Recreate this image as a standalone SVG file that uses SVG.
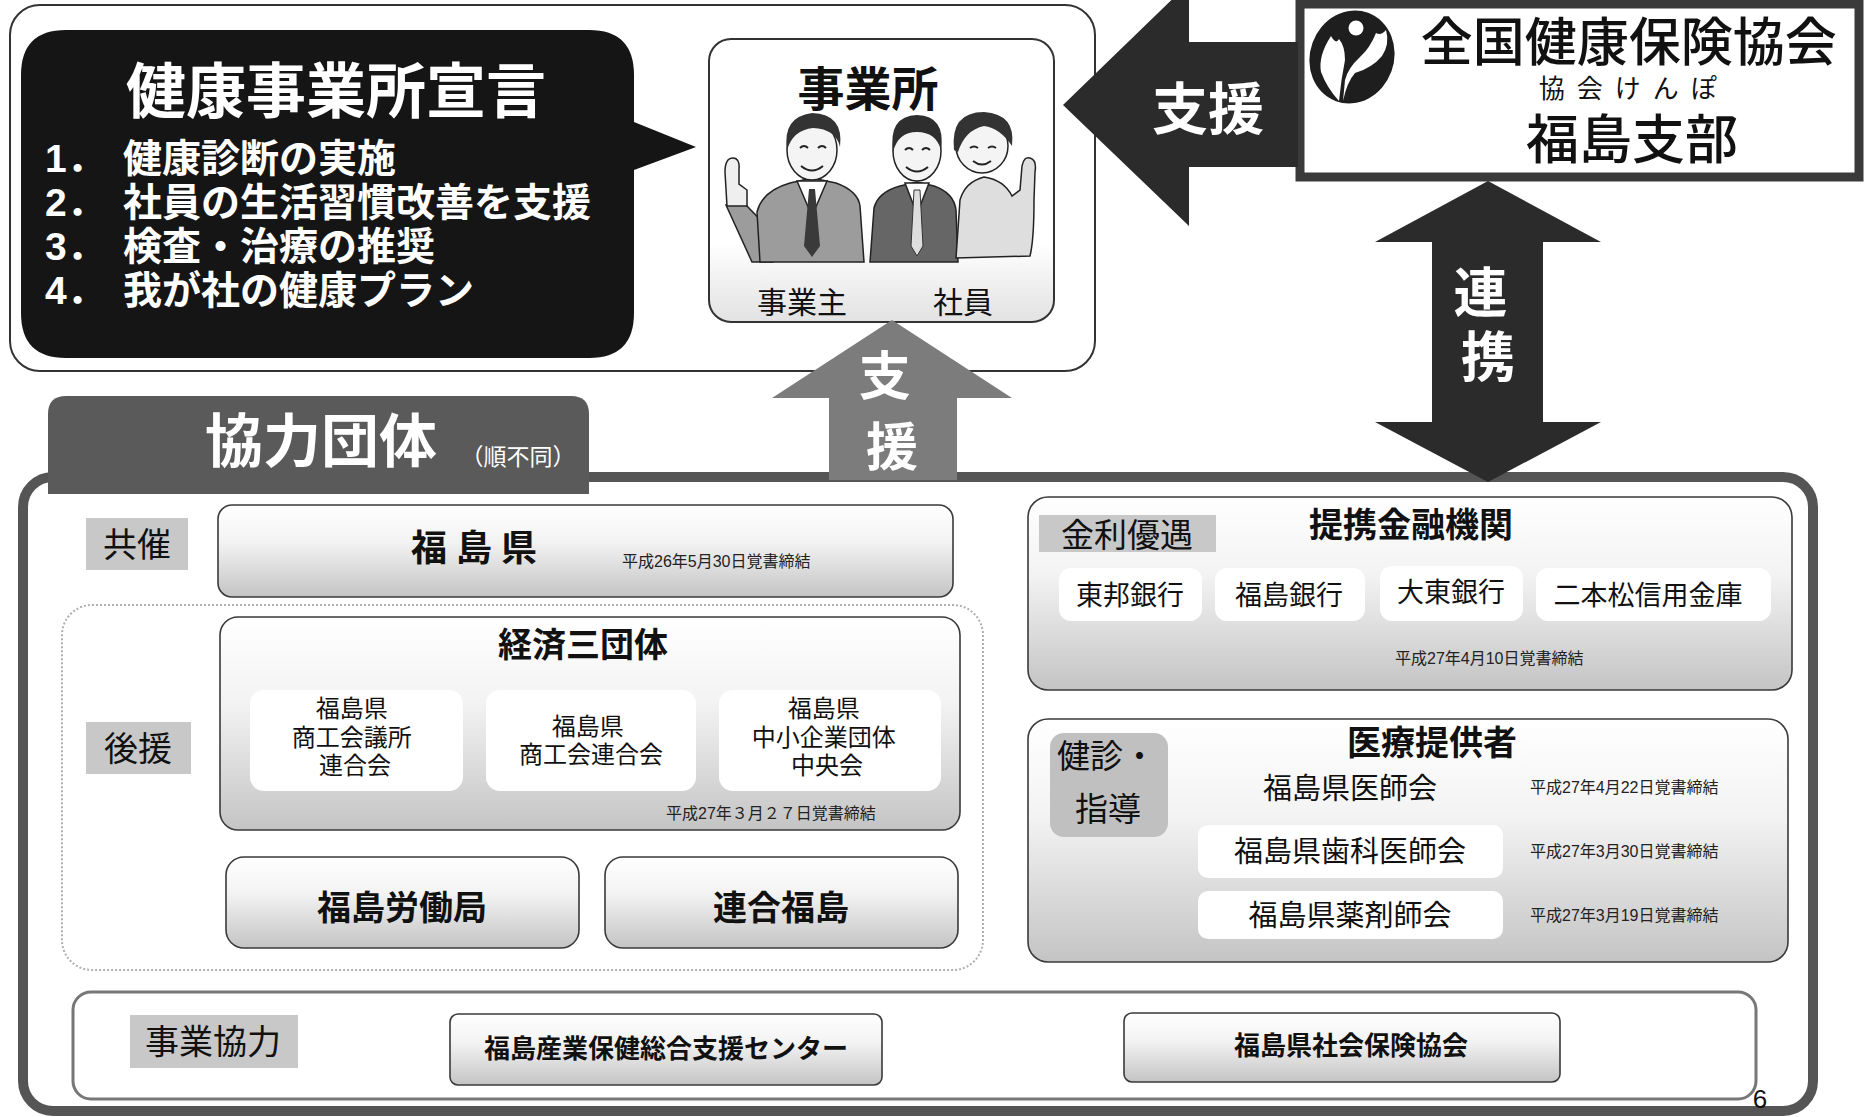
<svg xmlns="http://www.w3.org/2000/svg" width="1866" height="1117" viewBox="0 0 1866 1117">
<defs>
  <linearGradient id="boxFade" x1="0" y1="0" x2="0" y2="1">
    <stop offset="0" stop-color="#ffffff"/>
    <stop offset="0.4" stop-color="#f3f3f3"/>
    <stop offset="1" stop-color="#c4c4c4"/>
  </linearGradient>
  <linearGradient id="officeFade" x1="0" y1="0" x2="0" y2="1">
    <stop offset="0" stop-color="#ffffff"/>
    <stop offset="0.72" stop-color="#ffffff"/>
    <stop offset="1" stop-color="#e2e2e2"/>
  </linearGradient>
  <style>
    text { font-family: "Liberation Sans", "Noto Sans CJK JP", sans-serif; fill: #111; }
    .b { font-weight: 700; }
    .w { fill: #fff; }
    .c { text-anchor: middle; }
    .box { fill: url(#boxFade); stroke: #3a3a3a; stroke-width: 1.6; }
    .tag { fill: #c8c8c8; }
    .sub { fill: #fff; }
    .date { font-size: 16px; fill: #222; }
    .ink { stroke: #222; stroke-width: 1.5; }
    .arrowDark { fill: #2b2b2b; }
    .arrowGrey { fill: #7c7c7c; }
  </style>
</defs>

<rect x="0" y="0" width="1866" height="1117" fill="#fff"/>

<!-- declaration panel -->
<g id="declaration">
  <rect x="10" y="5" width="1085" height="366" rx="30" fill="#fff" stroke="#333" stroke-width="2"/>
  <path d="M66,30 H589 Q634,30 634,75 V122 L696,147 L634,170 V313 Q634,358 589,358 H66 Q21,358 21,313 V75 Q21,30 66,30 Z" fill="#151515"/>
  <text x="336" y="113" class="b w c" font-size="60">健康事業所宣言</text>
  <text class="b w" font-size="39">
    <tspan x="45" y="172">1．</tspan><tspan x="123">健康診断の実施</tspan>
    <tspan x="45" y="216">2．</tspan><tspan x="123">社員の生活習慣改善を支援</tspan>
    <tspan x="45" y="260">3．</tspan><tspan x="123">検査・治療の推奨</tspan>
    <tspan x="45" y="304">4．</tspan><tspan x="123">我が社の健康プラン</tspan>
  </text>
</g>

<!-- workplace -->
<g id="office">
  <rect x="709" y="39" width="345" height="283" rx="22" fill="url(#officeFade)" stroke="#333" stroke-width="2"/>
  <text x="868" y="106" class="b c" font-size="47">事業所</text>
  <!-- owner -->
  <g id="owner">
    <path d="M726,205 L746,205 L776,236 L773,262 L752,262 Z" fill="#9c9c9c" class="ink"/>
    <path d="M727,206 L725,172 Q725,158 733,158 Q740,158 739,170 L739,184 L747,190 L747,206 Z" fill="#efefef" class="ink"/>
    <path d="M760,262 L757,212 Q762,191 790,183 L812,178 L836,183 Q858,191 860,206 L864,262 Z" fill="#9c9c9c" class="ink"/>
    <path d="M797,181 L812,216 L827,181 Z" fill="#fff" class="ink"/>
    <path d="M809,189 L815,189 L820,246 L812,257 L804,246 Z" fill="#3a3a3a"/>
    <ellipse cx="812" cy="150" rx="25" ry="30" fill="#f4f4f4" class="ink"/>
    <path d="M787,150 Q782,117 812,113 Q844,114 840,147 Q836,129 813,128 Q793,130 787,150 Z" fill="#333"/>
    <path d="M800,148 q4,-4 8,0 M818,148 q4,-4 8,0 M801,166 q11,9 22,0" fill="none" stroke="#222" stroke-width="2"/>
  </g>
  <!-- staff member -->
  <g id="staffMan">
    <path d="M870,262 L874,208 Q878,192 900,186 L917,182 L934,186 Q954,193 956,210 L958,262 Z" fill="#666" class="ink"/>
    <path d="M905,183 L917,214 L929,183 Z" fill="#fff" class="ink"/>
    <path d="M914,190 L920,190 L923,246 L917,256 L911,246 Z" fill="#ddd" stroke="#333" stroke-width="1"/>
    <ellipse cx="917" cy="151" rx="24" ry="30" fill="#f4f4f4" class="ink"/>
    <path d="M893,152 Q888,116 917,115 Q946,116 941,150 Q936,132 917,132 Q898,132 893,152 Z" fill="#2e2e2e"/>
    <path d="M905,150 q4,-4 8,0 M922,150 q4,-4 8,0 M906,167 q11,9 22,0" fill="none" stroke="#222" stroke-width="2"/>
  </g>
  <!-- staff woman -->
  <g id="staffWoman">
    <path d="M956,258 L960,200 Q965,182 984,177 Q1004,180 1012,196 L1020,190 L1022,166 Q1024,156 1030,158 Q1037,160 1035,172 L1034,200 Q1034,240 1030,256 Z" fill="#dedede" class="ink"/>
    <ellipse cx="982" cy="146" rx="26" ry="27" fill="#f4f4f4" class="ink"/>
    <path d="M954,150 Q950,112 984,112 Q1016,114 1012,146 Q1000,128 984,126 Q965,130 958,152 Z" fill="#333"/>
    <path d="M970,148 q4,-3 8,0 M988,148 q4,-3 8,0 M973,161 q9,7 18,0" fill="none" stroke="#222" stroke-width="2"/>
  </g>
  <text x="802" y="313" class="c" font-size="30">事業主</text>
  <text x="963" y="313" class="c" font-size="30">社員</text>
</g>

<!-- association branch -->
<g id="kyokai">
  <rect x="1300" y="4" width="559" height="173" fill="#fff" stroke="#3a3a3a" stroke-width="9"/>
  <ellipse cx="1352" cy="57" rx="42" ry="47" transform="rotate(20 1352 57)" fill="#1e1e1e"/>
  <circle cx="1356" cy="28" r="7.5" fill="#fff"/>
  <path d="M1331,36 Q1318,56 1321,72 Q1327,88 1339,101 Q1341,80 1345,60 Q1345,46 1339,39 Q1336,45 1331,36 Z" fill="#fff"/>
  <path d="M1343,101 Q1347,82 1355,73 Q1372,68 1382,56 Q1390,44 1386,30 Q1381,36 1376,33 Q1370,48 1360,57 Q1348,68 1345,80 Z" fill="#fff"/>
  <text class="c" font-weight="500">
    <tspan x="1631" y="61" font-size="52">全国健康保険協会</tspan>
    <tspan x="1636" y="98" font-size="26" font-weight="400" letter-spacing="12">協会けんぽ</tspan>
    <tspan x="1632" y="159" font-size="53">福島支部</tspan>
  </text>
</g>

<!-- cooperating organisations -->
<g id="partners">
  <rect x="23" y="477" width="1790" height="634" rx="30" fill="#fff" stroke="#555" stroke-width="10"/>
  <path d="M66,396 H571 Q589,396 589,414 V494 H48 V414 Q48,396 66,396 Z" fill="#5a5a5a"/>
  <text x="321" y="462" class="b w c" font-size="58">協力団体</text>
  <text x="518" y="465" class="w c" font-size="23">（順不同）</text>
</g>

<g id="cohost">
  <rect x="86" y="518" width="102" height="52" class="tag"/>
  <text x="137" y="557" class="c" font-size="34">共催</text>
  <rect x="218" y="505" width="735" height="92" rx="14" class="box"/>
  <text x="411" y="561" class="b" font-size="36" letter-spacing="9">福島県</text>
  <text x="622" y="567" class="date">平成26年5月30日覚書締結</text>
</g>

<g id="support">
  <rect x="62" y="605" width="921" height="365" rx="30" fill="#fff" stroke="#b0b0b0" stroke-width="2" stroke-dasharray="2 2"/>
  <rect x="86" y="722" width="105" height="52" class="tag"/>
  <text x="138" y="761" class="c" font-size="34">後援</text>
</g>

<g id="economy">
  <rect x="220" y="617" width="740" height="213" rx="18" class="box"/>
  <text x="583" y="657" class="b c" font-size="34">経済三団体</text>
  <rect x="250" y="690" width="213" height="101" rx="14" class="sub"/>
  <rect x="486" y="690" width="210" height="101" rx="14" class="sub"/>
  <rect x="719" y="690" width="222" height="101" rx="14" class="sub"/>
  <text class="c" font-size="24">
    <tspan x="355" y="717">福島県</tspan>
    <tspan x="355" y="746">商工会議所</tspan>
    <tspan x="355" y="774">連合会</tspan>
  </text>
  <text class="c" font-size="24">
    <tspan x="591" y="735">福島県</tspan>
    <tspan x="591" y="763">商工会連合会</tspan>
  </text>
  <text class="c" font-size="24">
    <tspan x="827" y="717">福島県</tspan>
    <tspan x="827" y="746">中小企業団体</tspan>
    <tspan x="827" y="774">中央会</tspan>
  </text>
  <text x="666" y="819" class="date" font-size="15">平成27年３月２７日覚書締結</text>
</g>

<g id="labourBureau">
  <rect x="226" y="857" width="353" height="91" rx="18" class="box"/>
  <text x="402" y="920" class="b c" font-size="34">福島労働局</text>
</g>

<g id="rengo">
  <rect x="605" y="857" width="353" height="91" rx="18" class="box"/>
  <text x="781" y="920" class="b c" font-size="34">連合福島</text>
</g>

<g id="banks">
  <rect x="1028" y="497" width="764" height="193" rx="20" class="box"/>
  <rect x="1039" y="515" width="177" height="37" class="tag"/>
  <text x="1127" y="547" class="c" font-size="33">金利優遇</text>
  <text x="1411" y="537" class="b c" font-size="34">提携金融機関</text>
  <rect x="1059" y="568" width="143" height="53" rx="12" class="sub"/>
  <rect x="1215" y="568" width="150" height="53" rx="12" class="sub"/>
  <rect x="1380" y="566" width="143" height="55" rx="12" class="sub"/>
  <rect x="1536" y="568" width="235" height="53" rx="12" class="sub"/>
  <g class="c" font-size="27">
    <text x="1130" y="605">東邦銀行</text>
    <text x="1289" y="605">福島銀行</text>
    <text x="1451" y="602">大東銀行</text>
    <text x="1648" y="605">二本松信用金庫</text>
  </g>
  <text x="1395" y="664" class="date">平成27年4月10日覚書締結</text>
</g>

<g id="medical">
  <rect x="1028" y="719" width="760" height="243" rx="20" class="box"/>
  <rect x="1050" y="733" width="118" height="104" rx="14" fill="#c0c0c0"/>
  <text font-size="33">
    <tspan x="1057" y="768">健診・</tspan>
    <tspan x="1075" y="821">指導</tspan>
  </text>
  <text x="1432" y="755" class="b c" font-size="34">医療提供者</text>
  <text x="1350" y="799" class="c" font-size="29">福島県医師会</text>
  <rect x="1198" y="825" width="305" height="53" rx="10" class="sub"/>
  <text x="1350" y="862" class="c" font-size="29">福島県歯科医師会</text>
  <rect x="1198" y="891" width="305" height="48" rx="10" class="sub"/>
  <text x="1350" y="926" class="c" font-size="29">福島県薬剤師会</text>
  <text x="1530" y="793" class="date">平成27年4月22日覚書締結</text>
  <text x="1530" y="857" class="date">平成27年3月30日覚書締結</text>
  <text x="1530" y="921" class="date">平成27年3月19日覚書締結</text>
</g>

<g id="business">
  <rect x="73" y="992" width="1683" height="107" rx="18" fill="#fff" stroke="#777" stroke-width="3"/>
  <rect x="130" y="1015" width="168" height="53" class="tag"/>
  <text x="213" y="1054" class="c" font-size="34">事業協力</text>
  <rect x="450" y="1014" width="432" height="71" rx="8" class="box"/>
  <text x="666" y="1058" class="b c" font-size="26">福島産業保健総合支援センター</text>
  <rect x="1124" y="1013" width="436" height="69" rx="8" class="box"/>
  <text x="1351" y="1055" class="b c" font-size="26">福島県社会保険協会</text>
</g>

<text x="1760" y="1108" class="c" font-size="26" fill="#444">6</text>

<!-- block arrows between the parties -->
<g id="connectors">
  <polygon class="arrowDark" points="1063,105 1189,-17 1189,42 1298,42 1298,167 1189,167 1189,226"/>
  <text x="1208" y="129" class="b w c" font-size="56">支援</text>

  <polygon class="arrowDark" points="1488,181 1601,242 1543,242 1543,422 1601,422 1488,482 1375,422 1432,422 1432,242 1375,242"/>
  <text class="b w c" font-size="54">
    <tspan x="1488" y="313">連</tspan>
    <tspan x="1488" y="377">携</tspan>
  </text>

  <polygon class="arrowGrey" points="892,320 1012,398 957,398 957,480 829,480 829,398 772,398"/>
  <text class="b w c" font-size="52">
    <tspan x="892" y="395">支</tspan>
    <tspan x="892" y="466">援</tspan>
  </text>
</g>
</svg>
